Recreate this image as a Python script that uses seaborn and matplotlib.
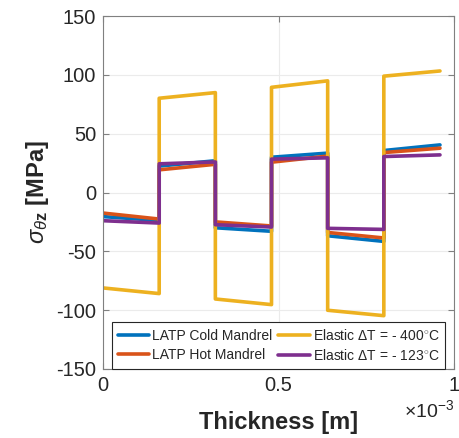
import matplotlib
matplotlib.use("Agg")
import matplotlib.pyplot as plt
import matplotlib.ticker as mticker
import seaborn as sns
import pandas as pd
import numpy as np

sns.set_style("ticks")
plt.rcParams["font.family"] = ["Liberation Sans", "DejaVu Sans"]
plt.rcParams["mathtext.fontset"] = "custom"
plt.rcParams["mathtext.rm"] = "Liberation Sans"
plt.rcParams["mathtext.it"] = "Liberation Sans:italic"
plt.rcParams["mathtext.bf"] = "Liberation Sans:bold"
plt.rcParams["axes.unicode_minus"] = False

# layer boundaries through the thickness [m]
layer_edges = [0.0, 0.16e-3, 0.32e-3, 0.48e-3, 0.64e-3, 0.80e-3, 0.96e-3]

# stress at the start / end of each layer [MPa]
cold_start = [-20.5, 22.5, -30.0, 30.0, -36.8, 35.7]
cold_end = [-23.8, 27.0, -33.0, 33.5, -41.6, 40.5]
hot_start = [-17.5, 19.3, -25.0, 25.8, -34.0, 34.0]
hot_end = [-22.6, 24.0, -28.5, 31.0, -38.7, 37.7]
el400_start = [-81.2, 80.2, -90.6, 89.5, -100.2, 99.0]
el400_end = [-86.0, 85.0, -95.4, 95.0, -104.8, 103.4]
el123_start = [-24.0, 24.4, -27.4, 28.4, -30.5, 30.6]
el123_end = [-26.0, 26.0, -29.4, 29.5, -31.4, 32.0]

labels = ["LATP Cold Mandrel", "LATP Hot Mandrel",
          r"Elastic $\Delta$T = - 400$^{\circ}$C",
          r"Elastic $\Delta$T = - 123$^{\circ}$C"]
colors = ["#0072BD", "#D95319", "#EDB120", "#7E2F8E"]
series = [(cold_start, cold_end), (hot_start, hot_end),
          (el400_start, el400_end), (el123_start, el123_end)]

rows = []
for lab, (s, e) in zip(labels, series):
    for i in range(len(s)):
        rows.append({"x": layer_edges[i], "y": s[i], "series": lab})
        rows.append({"x": layer_edges[i + 1], "y": e[i], "series": lab})
df = pd.DataFrame(rows)


class ShortFormatter(mticker.ScalarFormatter):
    def _set_format(self):
        self.format = "%g"


fig = plt.figure(figsize=(4.6, 4.38), dpi=100)
ax = fig.add_axes([0.224, 0.158, 0.763, 0.805])

sns.lineplot(data=df, x="x", y="y", hue="series", hue_order=labels,
             palette=colors, sort=False, estimator=None, linewidth=2.6,
             ax=ax)

ax.set_xlim(0, 1e-3)
ax.set_ylim(-150, 150)
ax.set_xticks([0, 0.5e-3, 1e-3])
ax.set_yticks([-150, -100, -50, 0, 50, 100, 150])
fmt = ShortFormatter(useMathText=True)
fmt.set_powerlimits((-2, 2))
ax.xaxis.set_major_formatter(fmt)
off = ax.xaxis.get_offset_text()
off.set_fontsize(14)
off.set_color("#262626")

ax.grid(True, color="#ebebeb", linewidth=0.8)
ax.set_axisbelow(True)
for sp in ax.spines.values():
    sp.set_visible(True)
    sp.set_color("#808080")
    sp.set_linewidth(0.8)
ax.tick_params(direction="in", length=4, labelsize=14.5, colors="#808080",
               labelcolor="#262626", top=True, right=True, pad=5)

ax.set_xlabel("Thickness [m]", fontsize=17, fontweight="bold",
              color="#262626", labelpad=12)
ax.set_ylabel(r"$\sigma_{\theta \mathbf{z}}$ [MPa]", fontsize=17,
              fontweight="bold", color="#262626", labelpad=4)

leg = ax.legend(ncol=2, loc="lower center", bbox_to_anchor=(0.5, 0.0),
                borderaxespad=0.0, fontsize=10, handlelength=2.3,
                handletextpad=0.2, columnspacing=0.4, fancybox=False,
                framealpha=1, edgecolor="#262626", labelspacing=0.4)
leg.get_frame().set_linewidth(0.8)

plt.savefig("out.png", dpi=100)
